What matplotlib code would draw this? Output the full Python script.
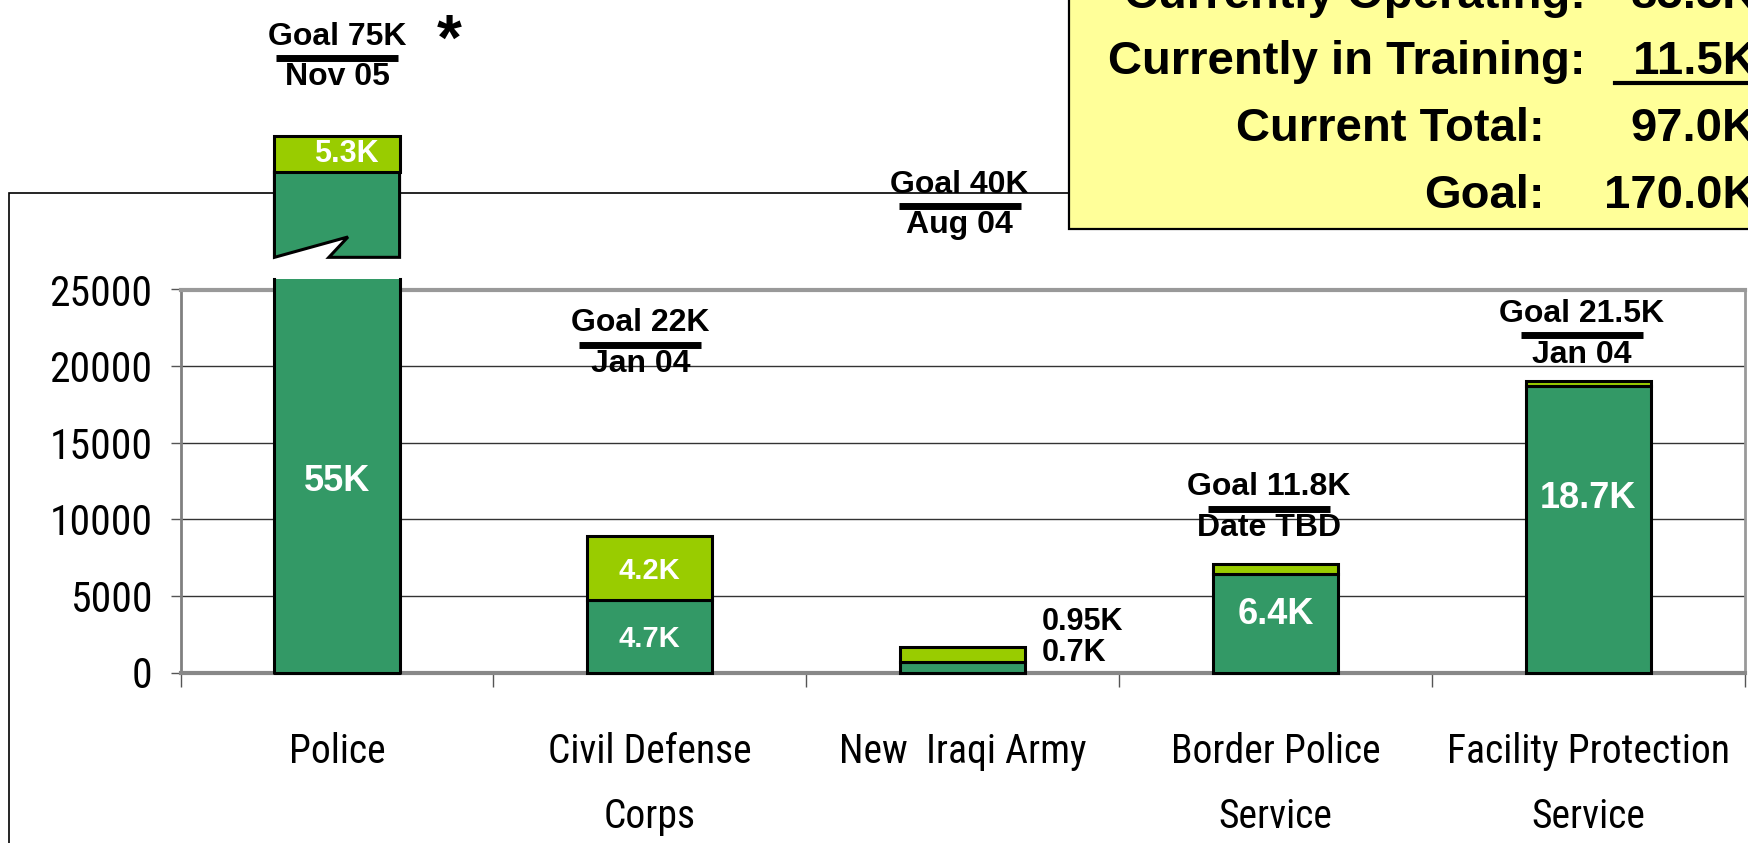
import numpy as np
import matplotlib
matplotlib.use("Agg")
import matplotlib.pyplot as plt
from matplotlib import font_manager
from matplotlib.patches import Polygon, Rectangle
from matplotlib.lines import Line2D

# data
categories = ["Police", "Civil Defense\nCorps", "New  Iraqi Army",
              "Border Police\nService", "Facility Protection\nService"]
operating = [55000, 4700, 700, 6400, 18700]
training = [5300, 4200, 950, 700, 350]
goal_k = [75, 22, 40, 11.8, 21.5]
goal_dates = ["Nov 05", "Jan 04", "Aug 04", "Date TBD", "Jan 04"]
goal_total_k = 170.0
y_ticks = [0, 5000, 10000, 15000, 20000, 25000]

# layout / style
W, H = 1748, 843
DARK = "#339966"
LIGHT = "#99CC00"
BAR_W = 0.4
Y_MAX = 25000
BOLD = "Liberation Sans"
# police bar is broken above the scale
BREAK_LOW = 25700
UPPER_BASE = 27100
ZIG_PEAK = (0.035, 28430)
ZIG_NOTCH = -0.026
UPPER_DARK_TOP = 32670
UPPER_TOP = 35020
goal_mark_y = [40100, 21400, 30450, 10700, 22000]
goal_dx = [0, -0.03, -0.01, -0.02, -0.02]
op_label_y = [12460, 2200, None, 3800, 11380]
op_label_size = [26, 21, 22, 26, 26]

# narrow font for the axis labels if there is one
available = {f.name for f in font_manager.fontManager.ttflist}
TICK_FONT, XSIZE, YSIZE, LSPACE, XPAD = "Liberation Sans", 27, 27, 2.05, 41
for name in ["Liberation Sans Narrow", "Arial Narrow", "Roboto Condensed", "DejaVu Sans Condensed"]:
    if name in available:
        TICK_FONT, XSIZE, YSIZE, LSPACE, XPAD = name, 28.5, 30, 1.87, 42.5
        break

plt.rcParams['font.family'] = [TICK_FONT, 'DejaVu Sans']


def k(v):
    return f"{v / 1000:g}K"


fig = plt.figure(figsize=(W / 100, H / 100), dpi=100)

# outer frame behind the chart
fig.add_artist(Rectangle((9 / W, -0.5), 2, 1.5 - 193 / H, transform=fig.transFigure,
                         fill=False, edgecolor='black', lw=1.2, zorder=-1))

ax = fig.add_axes([180.6 / W, 1 - 672.5 / H, (1744.7 - 180.6) / W, (672.5 - 289.5) / H])
x = np.arange(len(categories))
ax.set_xlim(-0.5, len(categories) - 0.5)
ax.set_ylim(0, Y_MAX)

ax.set_axisbelow(True)
ax.yaxis.grid(True, color='#333333', lw=1)
ax.spines['left'].set_color('#808080')
ax.spines['left'].set_linewidth(2)
ax.spines['bottom'].set_color('#888888')
ax.spines['bottom'].set_linewidth(3)
ax.spines['right'].set_color('#999999')
ax.spines['right'].set_linewidth(2)
ax.spines['top'].set_color('#999999')
ax.spines['top'].set_linewidth(3)

ax.set_yticks(y_ticks)
ax.tick_params(axis='y', length=7.2, width=1, color='#555555', pad=13, labelsize=YSIZE)
ax.set_xticks(x, categories)
ax.set_xticks(np.arange(-0.5, len(categories), 1), minor=True)
ax.tick_params(axis='x', which='major', length=0, pad=XPAD, labelsize=XSIZE)
ax.tick_params(axis='x', which='minor', length=10, width=1, color='#555555')
for lbl in ax.get_xticklabels():
    lbl.set_linespacing(LSPACE)

# operating (dark) bars, police capped at the break
op_heights = [min(v, BREAK_LOW) for v in operating]
bars = ax.bar(x, op_heights, BAR_W, color=DARK, edgecolor='black', linewidth=2.2,
              zorder=3, clip_on=False)
bars[0].set_edgecolor('none')
hw = BAR_W / 2
c = x[0]
ax.plot([c - hw, c - hw, c + hw, c + hw], [BREAK_LOW, 0, 0, BREAK_LOW], color='black',
        lw=2.2, zorder=4, clip_on=False)

# training (light) bars
ax.bar(x[1:], training[1:], BAR_W, bottom=operating[1:], color=LIGHT, edgecolor='black',
       linewidth=2.2, zorder=3)

# upper piece of the broken police bar
upper = Polygon([(c - hw, UPPER_BASE), (c + ZIG_PEAK[0], ZIG_PEAK[1]), (c + ZIG_NOTCH, UPPER_BASE),
                 (c + hw, UPPER_BASE), (c + hw, UPPER_DARK_TOP), (c - hw, UPPER_DARK_TOP)],
                closed=True, facecolor=DARK, edgecolor='black', lw=2.2, clip_on=False, zorder=3)
ax.add_patch(upper)
ax.bar(c, UPPER_TOP - UPPER_DARK_TOP, BAR_W, bottom=UPPER_DARK_TOP, color=LIGHT,
       edgecolor='black', linewidth=2.2, clip_on=False, zorder=3)

# value labels
for i in [0, 1, 3, 4]:
    ax.text(x[i], op_label_y[i], k(operating[i]), ha='center', va='center', color='white',
            fontsize=op_label_size[i], fontweight='bold', family=BOLD, zorder=6)
ax.text(c + 0.03, (UPPER_DARK_TOP + UPPER_TOP) / 2, k(training[0]), ha='center', va='center',
        color='white', fontsize=22, fontweight='bold', family=BOLD, zorder=6, clip_on=False)
ax.text(x[1], operating[1] + training[1] / 2 - 200, k(training[1]), ha='center', va='center',
        color='white', fontsize=21, fontweight='bold', family=BOLD, zorder=6)
ax.text(x[2] + 0.254, 3300, k(training[2]), ha='left', va='center', color='black',
        fontsize=22, fontweight='bold', family=BOLD, zorder=6)
ax.text(x[2] + 0.254, 1300, k(operating[2]), ha='left', va='center', color='black',
        fontsize=22, fontweight='bold', family=BOLD, zorder=6)

# goal markers
for i in range(len(categories)):
    gx = x[i] + goal_dx[i]
    gy = goal_mark_y[i]
    ax.plot([gx - 0.195, gx + 0.195], [gy, gy], color='black', lw=5, clip_on=False,
            solid_capstyle='butt', zorder=5)
    ax.annotate(f"Goal {goal_k[i]:g}K", (gx, gy), xytext=(0, 9.5), textcoords='offset points',
                ha='center', va='baseline', fontsize=23, fontweight='bold', family=BOLD,
                annotation_clip=False, zorder=6)
    ax.annotate(goal_dates[i], (gx, gy), xytext=(0, -19.5), textcoords='offset points',
                ha='center', va='baseline', fontsize=23, fontweight='bold', family=BOLD,
                annotation_clip=False, zorder=6)

fig.text(449 / W, 1 - 43 / H, "*", ha='center', va='center', fontsize=46,
         fontweight='bold', family=BOLD)

# summary box
fig.add_artist(Rectangle((1069 / W, 1 - 229 / H), 1, 1, transform=fig.transFigure,
                         facecolor='#FFFF99', edgecolor='black', lw=1.6, zorder=10))
op_total = sum(operating) / 1000
tr_total = sum(training) / 1000
rows = [("Currently Operating:", f"{op_total:.1f}K", 1586),
        ("Currently in Training:", f" {tr_total:.1f}K", 1586),
        ("Current Total:", f"{op_total + tr_total:.1f}K", 1545),
        ("Goal:", f"{goal_total_k:.1f}K", 1545)]
baselines = [8, 74, 141, 208]
for (lab, val, xr), yb in zip(rows, baselines):
    fig.text(xr / W, 1 - yb / H, lab, ha='right', va='baseline', fontsize=34,
             fontweight='bold', family=BOLD, zorder=11)
    fig.text(1757 / W, 1 - yb / H, val, ha='right', va='baseline', fontsize=34,
             fontweight='bold', family=BOLD, zorder=11)
fig.add_artist(Line2D([1615 / W, 1.01], [1 - 83 / H, 1 - 83 / H], transform=fig.transFigure,
                      color='black', lw=3, zorder=11))

fig.savefig("out.png", dpi=100)
